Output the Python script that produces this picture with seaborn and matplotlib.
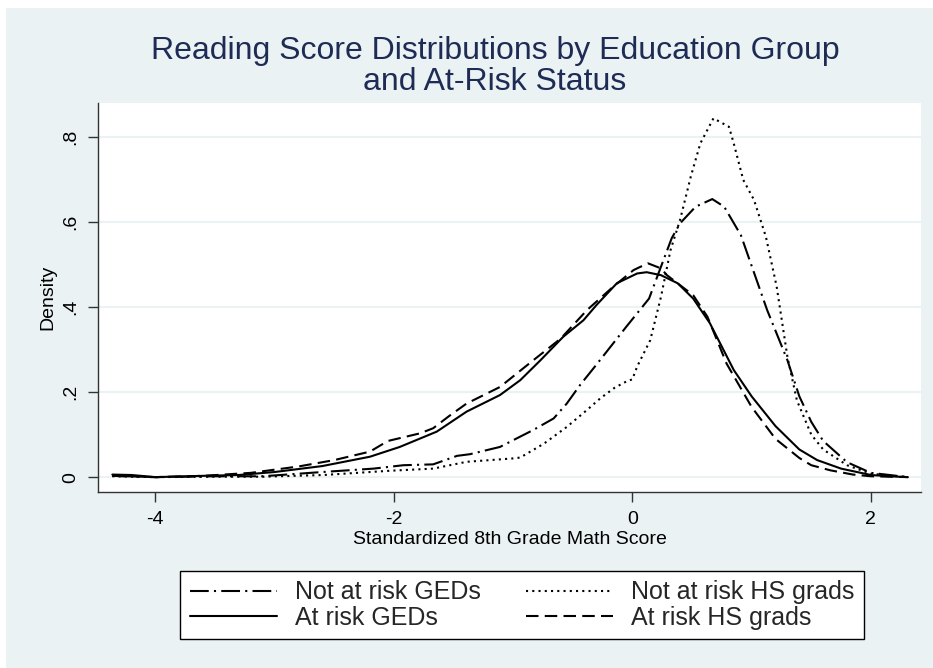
import numpy as np
import pandas as pd
import matplotlib
matplotlib.use("Agg")
import matplotlib.pyplot as plt
import seaborn as sns
from matplotlib.patches import Rectangle

# Kernel density curves
x_notrisk_ged = [-4.36, -4.0, -3.5, -3.1, -2.6, -2.17, -1.92, -1.67, -1.47, -1.36, -1.11, -0.83, -0.66,
                 -0.55, -0.44, -0.3, -0.05, 0.14, 0.24, 0.33, 0.40, 0.53, 0.67, 0.77, 0.91, 1.13, 1.30,
                 1.4, 1.5, 1.6, 1.8, 2.0, 2.31]
y_notrisk_ged = [0.003, 0.0, 0.002, 0.002, 0.012, 0.02, 0.028, 0.03, 0.05, 0.054, 0.071, 0.111, 0.138,
                 0.173, 0.216, 0.265, 0.354, 0.42, 0.495, 0.562, 0.597, 0.636, 0.654, 0.636, 0.569, 0.393, 0.275,
                 0.19, 0.13, 0.085, 0.035, 0.01, 0.0]

x_notrisk_hs = [-4.36, -4.0, -3.5, -3.09, -2.59, -2.03, -1.67, -1.39, -1.0, -0.94, -0.74, -0.55, -0.38,
                -0.27, -0.15, -0.05, 0.0, 0.04, 0.15, 0.24, 0.32, 0.40, 0.49, 0.57, 0.68, 0.81, 0.85, 0.93,
                1.02, 1.12, 1.21, 1.30, 1.38, 1.5, 1.6, 1.8, 2.0, 2.31]
y_notrisk_hs = [0.002, 0.0, 0.001, 0.001, 0.005, 0.015, 0.02, 0.036, 0.044, 0.046, 0.079, 0.118, 0.158,
                0.185, 0.21, 0.225, 0.23, 0.26, 0.322, 0.424, 0.534, 0.605, 0.707, 0.785, 0.844, 0.824, 0.785, 0.699,
                0.652, 0.565, 0.448, 0.283, 0.18, 0.10, 0.065, 0.028, 0.008, 0.0]

x_risk_ged = [-4.36, -4.2, -4.0, -3.6, -3.3, -3.0, -2.6, -2.2, -1.95, -1.64, -1.39, -1.11, -0.94, -0.77,
              -0.58, -0.41, -0.3, -0.13, 0.04, 0.12, 0.24, 0.38, 0.51, 0.65, 0.85, 1.0, 1.2, 1.4, 1.55,
              1.75, 2.0, 2.15, 2.31]
y_risk_ged = [0.006, 0.005, 0.0, 0.003, 0.005, 0.012, 0.026, 0.048, 0.071, 0.107, 0.154, 0.193, 0.228, 0.275,
              0.33, 0.369, 0.405, 0.456, 0.479, 0.482, 0.475, 0.456, 0.42, 0.362, 0.252, 0.19, 0.12, 0.065, 0.04,
              0.02, 0.005, 0.002, 0.0]

x_risk_hs = [-4.36, -4.0, -3.6, -3.2, -2.8, -2.5, -2.2, -2.05, -1.78, -1.67, -1.53, -1.39, -1.11, -0.83,
             -0.6, -0.38, -0.16, 0.01, 0.13, 0.24, 0.29, 0.51, 0.63, 0.79, 1.0, 1.2, 1.4, 1.5, 1.66, 1.85,
             2.0, 2.31]
y_risk_hs = [0.003, 0.0, 0.003, 0.01, 0.025, 0.04, 0.06, 0.085, 0.103, 0.115, 0.145, 0.173, 0.212, 0.275,
             0.326, 0.393, 0.448, 0.487, 0.503, 0.491, 0.475, 0.428, 0.377, 0.267, 0.165, 0.09, 0.045, 0.028,
             0.016, 0.006, 0.002, 0.0]

series_names = ["Not at risk GEDs", "Not at risk HS grads", "At risk GEDs", "At risk HS grads"]
title_lines = ["Reading Score Distributions by Education Group", "and At-Risk Status"]
y_ticks = [0, 0.2, 0.4, 0.6, 0.8]
y_tick_labels = ["0", ".2", ".4", ".6", ".8"]
x_ticks = [-4, -2, 0, 2]
x_tick_labels = ["-4", "-2", "0", "2"]

BG = "#EAF2F3"
NAVY = "#1E2B55"
W, H = 933, 668

sns.set_theme(style="white")
plt.rcParams['font.family'] = ['Liberation Sans', 'DejaVu Sans']


def main():
    fig = plt.figure(figsize=(W / 100, H / 100), dpi=100, facecolor=BG)
    # thin white margin at top and left, as in the cropped screenshot
    fig.patches.append(Rectangle((0, 1 - 8 / H), 1, 8 / H, transform=fig.transFigure,
                                 facecolor="white", edgecolor="none", zorder=0))
    fig.patches.append(Rectangle((0, 0), 6 / W, 1, transform=fig.transFigure,
                                 facecolor="white", edgecolor="none", zorder=0))

    ax = fig.add_axes([98 / W, 1 - 492 / H, (921 - 98) / W, (492 - 103) / H])
    ax.set_facecolor("white")

    curves = [
        (x_notrisk_ged, y_notrisk_ged, (0, (9, 2.5, 1, 2.5))),
        (x_notrisk_hs, y_notrisk_hs, (0, (1, 2))),
        (x_risk_ged, y_risk_ged, "-"),
        (x_risk_hs, y_risk_hs, (0, (6, 3))),
    ]
    handles = []
    for (xs, ys, ls), name in zip(curves, series_names):
        df = pd.DataFrame({"x": xs, "y": ys})
        sns.lineplot(data=df, x="x", y="y", ax=ax, color="black", linewidth=1.5,
                     linestyle=ls, sort=False, estimator=None, label=name, legend=False)
        handles.append(ax.lines[-1])

    ax.set_xlim(-4.48, 2.42)
    ax.set_ylim(-0.035, 0.88)
    ax.set_yticks(y_ticks)
    ax.set_yticklabels(y_tick_labels, rotation=90, va="center")
    ax.set_xticks(x_ticks)
    ax.set_xticklabels(x_tick_labels)
    ax.tick_params(axis="both", direction="out", length=7.5, width=1, color="#333333",
                   labelsize=14, labelcolor="black", pad=6, left=True, bottom=True)
    ax.yaxis.grid(True, color=BG, linewidth=1.5)
    ax.xaxis.grid(False)
    ax.set_axisbelow(True)
    for side in ["top", "right"]:
        ax.spines[side].set_visible(False)
    for side in ["left", "bottom"]:
        ax.spines[side].set_color("#333333")
        ax.spines[side].set_linewidth(1)

    ax.set_ylabel("Density", fontsize=14, color="black", labelpad=4)
    ax.set_xlabel("Standardized 8th Grade Math Score", fontsize=14, color="black", labelpad=2)

    # two-line title, each line placed on its own baseline
    fig.text(495 / W, 1 - 59 / H, title_lines[0], ha="center", va="baseline",
             fontsize=23, color=NAVY)
    fig.text(495 / W, 1 - 90 / H, title_lines[1], ha="center", va="baseline",
             fontsize=23, color=NAVY)

    # legend: two columns, filled column-wise
    order = [0, 2, 1, 3]
    leg = fig.legend([handles[i] for i in order], [series_names[i] for i in order],
                     loc="center", bbox_to_anchor=(522 / W, 1 - 605 / H), ncol=2,
                     frameon=True, fancybox=False, edgecolor="black", facecolor="white",
                     framealpha=1, handlelength=3.5, handletextpad=0.7, columnspacing=1.8,
                     labelspacing=0.05, borderpad=0.38, prop={"size": 18})
    leg.get_frame().set_linewidth(1)

    fig.savefig("out.png", dpi=100, facecolor=BG)


if __name__ == '__main__':
    main()
